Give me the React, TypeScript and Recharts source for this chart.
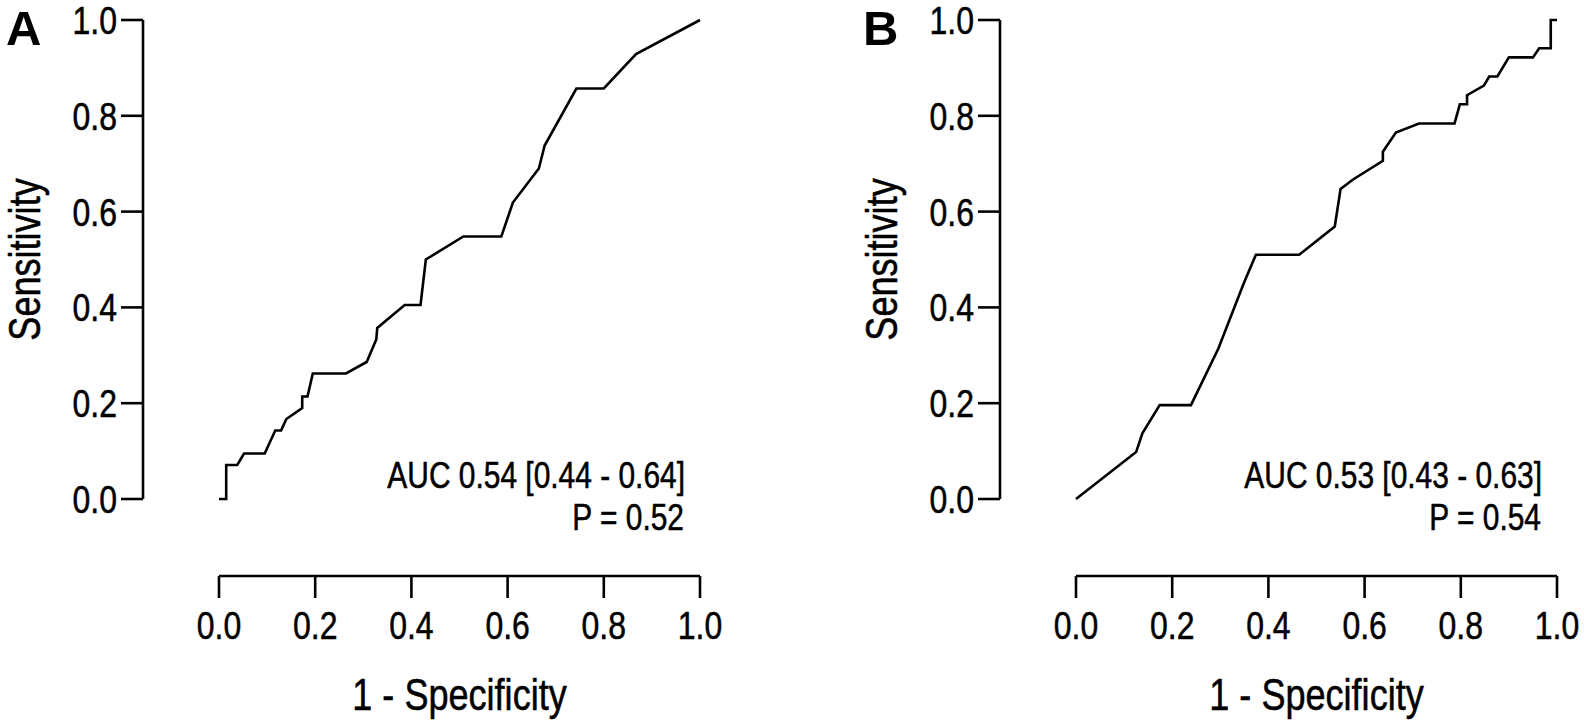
import React from 'react';
import { LineChart, Line, XAxis, YAxis } from 'recharts';

// ---- Data ----
const fprA = [0, 0.015, 0.015, 0.038, 0.052, 0.095, 0.117, 0.129, 0.14, 0.173, 0.173, 0.184, 0.195, 0.264, 0.307, 0.327, 0.329, 0.386, 0.419, 0.43, 0.508, 0.587, 0.611, 0.665, 0.677, 0.743, 0.8, 0.867, 1];
const tprA = [0, 0, 0.071, 0.071, 0.095, 0.095, 0.143, 0.143, 0.167, 0.19, 0.214, 0.214, 0.262, 0.262, 0.286, 0.333, 0.357, 0.405, 0.405, 0.5, 0.548, 0.548, 0.619, 0.69, 0.738, 0.857, 0.857, 0.929, 1];

const fprB = [0, 0.125, 0.138, 0.174, 0.239, 0.296, 0.349, 0.374, 0.464, 0.538, 0.55, 0.576, 0.638, 0.638, 0.665, 0.713, 0.787, 0.798, 0.813, 0.813, 0.848, 0.859, 0.876, 0.9, 0.95, 0.963, 0.987, 0.987, 1];
const tprB = [0, 0.098, 0.137, 0.196, 0.196, 0.314, 0.451, 0.51, 0.51, 0.569, 0.647, 0.667, 0.706, 0.725, 0.765, 0.784, 0.784, 0.824, 0.824, 0.843, 0.863, 0.882, 0.882, 0.922, 0.922, 0.941, 0.941, 1, 1];

const axisTicks = [0, 0.2, 0.4, 0.6, 0.8, 1.0];
const axisTickLabels = ['0.0', '0.2', '0.4', '0.6', '0.8', '1.0'];

const panelLetters = ['A', 'B'];
const aucLabels = ['AUC 0.54 [0.44 - 0.64]', 'AUC 0.53 [0.43 - 0.63]'];
const pLabels = ['P = 0.52', 'P = 0.54'];
const xTitle = '1 - Specificity';
const yTitle = 'Sensitivity';

// ---- Style ----
const FONT = "'Liberation Sans', Arial, Helvetica, sans-serif";
const NARROW = 0.82;
const INK = '#000';
const SW = 2.6;
const TICK_FS = 39;
const TITLE_FS = 44;
const NOTE_FS = 36.5;
const TEXT_STROKE = 0.55;

const labelFor = (v: number) => {
  const i = axisTicks.findIndex((t) => Math.abs(t - v) < 1e-9);
  return i >= 0 ? axisTickLabels[i] : String(v);
};

const XTick = (props: any) => {
  const { x, y, payload } = props;
  return (
    <g transform={`translate(${x},${y})`}>
      <text transform={`scale(${NARROW},1)`} x={0} y={39} textAnchor="middle" fontSize={TICK_FS} fontFamily={FONT} fill={INK} stroke={INK} strokeWidth={TEXT_STROKE}>
        {labelFor(payload.value)}
      </text>
    </g>
  );
};

const YTick = (props: any) => {
  const { x, y, payload } = props;
  return (
    <g transform={`translate(${x},${y})`}>
      <text transform={`scale(${NARROW},1)`} x={0} y={14} textAnchor="end" fontSize={TICK_FS} fontFamily={FONT} fill={INK} stroke={INK} strokeWidth={TEXT_STROKE}>
        {labelFor(payload.value)}
      </text>
    </g>
  );
};

const XTitle = (props: any) => {
  const vb = props.viewBox || { x: 219, y: 576, width: 481, height: 149 };
  const cx = vb.x + vb.width / 2;
  const by = vb.y + 134;
  return (
    <g transform={`translate(${cx},${by})`}>
      <text transform={`scale(${NARROW},1)`} textAnchor="middle" fontSize={TITLE_FS} fontFamily={FONT} fill={INK} stroke={INK} strokeWidth={TEXT_STROKE}>
        {xTitle}
      </text>
    </g>
  );
};

const YTitle = (props: any) => {
  const vb = props.viewBox || { x: 0, y: 20, width: 143, height: 479 };
  const cx = vb.x + 39.5;
  const cy = vb.y + vb.height / 2;
  return (
    <g transform={`translate(${cx},${cy}) rotate(-90)`}>
      <text transform={`scale(${NARROW},1)`} textAnchor="middle" fontSize={TITLE_FS} fontFamily={FONT} fill={INK} stroke={INK} strokeWidth={TEXT_STROKE}>
        {yTitle}
      </text>
    </g>
  );
};

type PanelProps = { idx: number; fpr: number[]; tpr: number[]; left: number; width: number };

const PLOT_RIGHT = 700;

function RocPanel({ idx, fpr, tpr, left, width }: PanelProps) {
  const data = fpr.map((x, i) => ({ x, y: tpr[i] }));
  return (
    <div style={{ position: 'absolute', left, top: 0, width, height: 725 }}>
      <LineChart width={width} height={725} data={data} margin={{ top: 20, right: width - PLOT_RIGHT, bottom: 0, left: 0 }}>
        <XAxis xAxisId="gap" type="number" dataKey="x" domain={[0, 1]} height={77} axisLine={false} tickLine={false} tick={false} />
        <XAxis
          xAxisId="main"
          type="number"
          dataKey="x"
          domain={[0, 1]}
          ticks={axisTicks}
          interval={0}
          height={149}
          tickSize={22}
          tickMargin={2}
          axisLine={{ stroke: INK, strokeWidth: SW }}
          tickLine={{ stroke: INK, strokeWidth: SW }}
          tick={(p: any) => <XTick {...p} />}
          label={(p: any) => <XTitle {...p} />}
        />
        <YAxis yAxisId="gap" type="number" domain={[0, 1]} width={76} axisLine={false} tickLine={false} tick={false} />
        <YAxis
          yAxisId="main"
          type="number"
          domain={[0, 1]}
          ticks={axisTicks}
          interval={0}
          width={143}
          tickSize={22}
          tickMargin={4}
          axisLine={{ stroke: INK, strokeWidth: SW }}
          tickLine={{ stroke: INK, strokeWidth: SW }}
          tick={(p: any) => <YTick {...p} />}
          label={(p: any) => <YTitle {...p} />}
        />
        <Line
          xAxisId="main"
          yAxisId="main"
          type="linear"
          dataKey="y"
          stroke={INK}
          strokeWidth={SW}
          strokeLinejoin="miter"
          dot={false}
          activeDot={false}
          isAnimationActive={false}
        />
      </LineChart>
      <svg width={width} height={725} style={{ position: 'absolute', left: 0, top: 0, pointerEvents: 'none' }}>
        <text x={6} y={45} fontSize={49} fontWeight="bold" fontFamily={FONT} fill={INK}>
          {panelLetters[idx]}
        </text>
        <g transform={`translate(685,488) scale(${NARROW},1)`}>
          <text textAnchor="end" fontSize={NOTE_FS} fontFamily={FONT} fill={INK} stroke={INK} strokeWidth={TEXT_STROKE}>
            {aucLabels[idx]}
          </text>
        </g>
        <g transform={`translate(684,530) scale(${NARROW},1)`}>
          <text textAnchor="end" fontSize={NOTE_FS} fontFamily={FONT} fill={INK} stroke={INK} strokeWidth={TEXT_STROKE}>
            {pLabels[idx]}
          </text>
        </g>
      </svg>
    </div>
  );
}

export default function App() {
  return (
    <div style={{ position: 'absolute', left: 0, top: 0, width: 1584, height: 725, background: '#fff', overflow: 'hidden' }}>
      <RocPanel idx={0} fpr={fprA} tpr={tprA} left={0} width={857} />
      <RocPanel idx={1} fpr={fprB} tpr={tprB} left={857} width={727} />
    </div>
  );
}
